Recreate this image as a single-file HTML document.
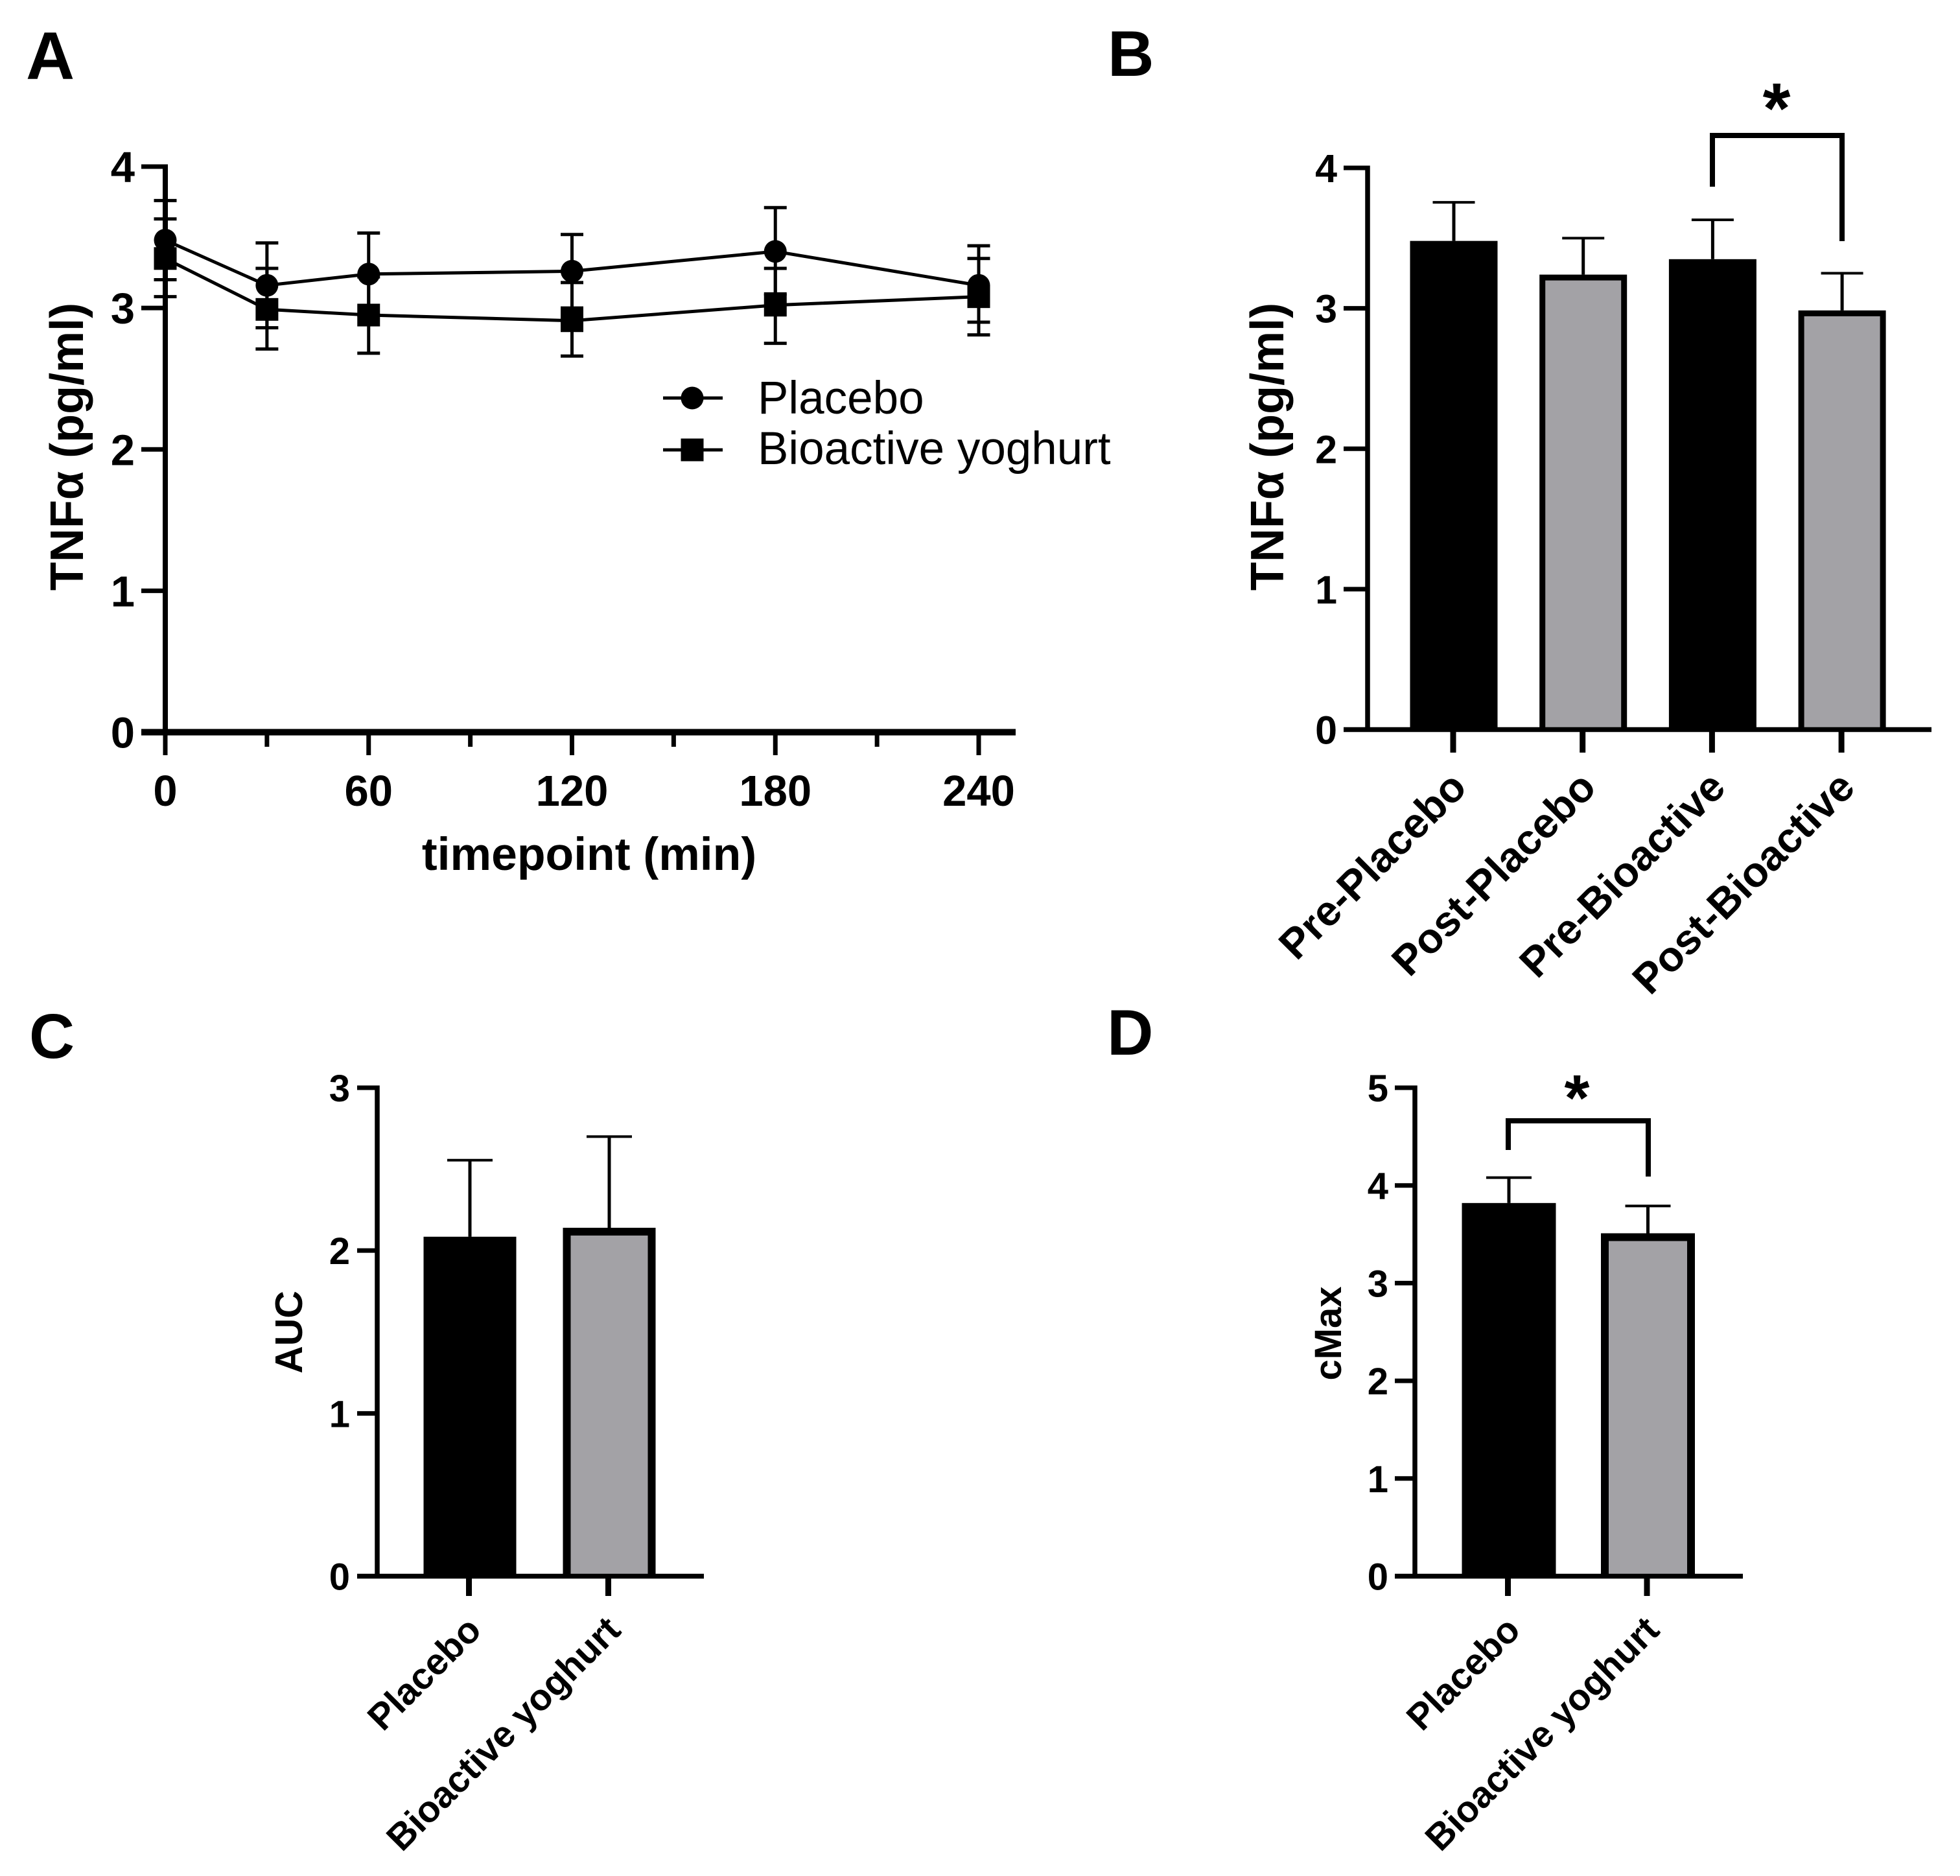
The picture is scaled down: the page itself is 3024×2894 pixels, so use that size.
<!DOCTYPE html>
<html lang="en">
<head>
<meta charset="utf-8">
<title>TNFα chart panels</title>
<style>
html,body{margin:0;padding:0;background:#fff;width:3024px;height:2894px;overflow:hidden}
svg{display:block}
text{font-family:"Liberation Sans",Arial,sans-serif;fill:#000}
.b{font-weight:bold}
</style>
</head>
<body>
<svg id="figure" xmlns="http://www.w3.org/2000/svg" width="3024" height="2894" viewBox="0 0 3024 2894">
  <rect width="3024" height="2894" fill="#fff"/>

  <g id="panel-a">
    <text class="b" x="40" y="122" font-size="104">A</text>
    <text class="b" transform="translate(128 689) rotate(-90)" text-anchor="middle" font-size="72">TNFα (pg/ml)</text>
    <text class="b" x="909" y="1342" text-anchor="middle" font-size="71.5">timepoint (min)</text>
    <text x="1169" y="638" font-size="71">Placebo</text>
    <text x="1169" y="716" font-size="71">Bioactive yoghurt</text>
  </g>

  <g id="panel-b">
    <text class="b" x="1709" y="117" font-size="99">B</text>
    <text class="b" transform="translate(1980 689) rotate(-90)" text-anchor="middle" font-size="72">TNFα (pg/ml)</text>
    <text class="b" x="2741" y="205" text-anchor="middle" font-size="110">*</text>
  </g>

  <g id="panel-c">
    <text class="b" x="45" y="1632" font-size="97">C</text>
    <text class="b" transform="translate(466 2055) rotate(-90)" text-anchor="middle" font-size="59">AUC</text>
  </g>

  <g id="panel-d">
    <text class="b" x="1708" y="1627" font-size="99">D</text>
    <text class="b" transform="translate(2069 2057) rotate(-90)" text-anchor="middle" font-size="58">cMax</text>
    <text class="b" x="2433" y="1728" text-anchor="middle" font-size="100">*</text>
  </g>
</svg>

<script>
// ---- Panel A data ----
const timepoints = [0, 30, 60, 120, 180, 240];
const placeboMean = [3.48, 3.16, 3.24, 3.26, 3.40, 3.16];
const placeboUpper = [3.76, 3.46, 3.53, 3.52, 3.71, 3.44];
const placeboLower = [3.20, 2.86, 2.95, 3.00, 3.10, 2.90];
const bioactiveMean = [3.35, 2.99, 2.95, 2.91, 3.02, 3.08];
const bioactiveUpper = [3.63, 3.28, 3.22, 3.18, 3.28, 3.35];
const bioactiveLower = [3.08, 2.71, 2.68, 2.66, 2.75, 2.81];
const panelAYTicks = [0, 1, 2, 3, 4];
const panelAXTicks = [0, 60, 120, 180, 240];
const panelAMinorTicks = [30, 90, 150, 210];

// ---- Panel B data ----
const panelBCategories = ['Pre-Placebo', 'Post-Placebo', 'Pre-Bioactive', 'Post-Bioactive'];
const panelBValues = [3.48, 3.24, 3.35, 2.985];
const panelBErrorTops = [3.755, 3.50, 3.63, 3.25];
const panelBYTicks = [0, 1, 2, 3, 4];

// ---- Panel C data ----
const panelCCategories = ['Placebo', 'Bioactive yoghurt'];
const panelCValues = [2.085, 2.14];
const panelCErrorTops = [2.555, 2.70];
const panelCYTicks = [0, 1, 2, 3];

// ---- Panel D data ----
const panelDCategories = ['Placebo', 'Bioactive yoghurt'];
const panelDValues = [3.82, 3.51];
const panelDErrorTops = [4.08, 3.79];
const panelDYTicks = [0, 1, 2, 3, 4, 5];

const SVG_NS = 'http://www.w3.org/2000/svg';
const GREY = '#a3a2a6';

function make(parent, tag, name, props, content) {
  const el = document.createElementNS(SVG_NS, tag);
  
  
  for (const key in props) el.setAttribute(key, props[key]);
  if (content !== undefined) el.textContent = content;
  parent.appendChild(el);
  return el;
}
function line(parent, name, x1, y1, x2, y2, w) {
  return make(parent, 'line', name, {x1, y1, x2, y2, stroke: '#000', 'stroke-width': w});
}
function linear(d0, r0, d1, r1) {
  return v => r0 + (v - d0) * (r1 - r0) / (d1 - d0);
}

// ---- Panel A ----
(function () {
  const g = document.getElementById('panel-a');
  const x = linear(0, 255, 240, 1510);
  const y = linear(0, 1129.5, 4, 257);
  panelAYTicks.forEach(t => {
    line(g, 'y-tick-' + t, 218, y(t), 255, y(t), 7);
    make(g, 'text', 'y-tick-label-' + t, {class: 'b', x: 208, y: y(t) + 24, 'text-anchor': 'end', 'font-size': 67}, String(t));
  });
  panelAXTicks.forEach(t => {
    line(g, 'x-tick-' + t, x(t), 1129, x(t), 1165, 7);
    make(g, 'text', 'x-tick-label-' + t, {class: 'b', x: x(t), y: 1243, 'text-anchor': 'middle', 'font-size': 67}, String(t));
  });
  panelAMinorTicks.forEach(t => {
    line(g, 'x-minor-tick-' + t, x(t), 1129, x(t), 1152, 7);
  });
  line(g, 'y-axis', 255, 253.5, 255, 1134, 8);
  line(g, 'x-axis', 218, 1129.5, 1567, 1129.5, 10);

  function series(name, mean, upper, lower, square) {
    const group = make(g, 'g', name + '-series', {});
    mean.forEach((m, i) => {
      const px = x(timepoints[i]);
      line(group, name + '-error-stem-' + timepoints[i], px, y(upper[i]), px, y(lower[i]), 5);
      line(group, name + '-error-cap-upper-' + timepoints[i], px - 17.5, y(upper[i]), px + 17.5, y(upper[i]), 5);
      line(group, name + '-error-cap-lower-' + timepoints[i], px - 17.5, y(lower[i]), px + 17.5, y(lower[i]), 5);
    });
    const pts = mean.map((m, i) => x(timepoints[i]) + ',' + y(m)).join(' ');
    make(group, 'polyline', name + '-line', {points: pts, fill: 'none', stroke: '#000', 'stroke-width': 5});
    mean.forEach((m, i) => {
      const px = x(timepoints[i]);
      if (square) {
        make(group, 'rect', name + '-point-' + timepoints[i], {x: px - 17.5, y: y(m) - 17.5, width: 35, height: 35, fill: '#000'});
      } else {
        make(group, 'circle', name + '-point-' + timepoints[i], {cx: px, cy: y(m), r: 17.5, fill: '#000'});
      }
    });
  }
  series('placebo', placeboMean, placeboUpper, placeboLower, false);
  series('bioactive', bioactiveMean, bioactiveUpper, bioactiveLower, true);

  line(g, 'legend-line-placebo', 1023, 614, 1115, 614, 5);
  make(g, 'circle', 'legend-marker-placebo', {cx: 1068, cy: 614, r: 17.5, fill: '#000'});
  line(g, 'legend-line-bioactive', 1023, 694, 1115, 694, 5);
  make(g, 'rect', 'legend-marker-bioactive', {x: 1050.5, y: 676.5, width: 35, height: 35, fill: '#000'});
})();

// ---- Bar panels ----
function barPanel(o) {
  const g = document.getElementById(o.id);
  const y = linear(0, o.y0, o.maxTick, o.yTop);
  const x = linear(0, o.firstX, 1, o.firstX + o.step);
  o.yTicks.forEach(t => {
    line(g, 'y-tick-' + t, o.tickLeft, y(t), o.axisX, y(t), 7);
    make(g, 'text', 'y-tick-label-' + t, {class: 'b', x: o.labelRight, y: y(t) + o.labelDy, 'text-anchor': 'end', 'font-size': o.tickFont}, String(t));
  });
  o.values.forEach((v, i) => {
    const cx = x(i);
    const cap = o.capW / 2;
    line(g, 'error-stem-' + i, cx, y(o.tops[i]), cx, y(v), 5);
    line(g, 'error-cap-' + i, cx - cap, y(o.tops[i]), cx + cap, y(o.tops[i]), 4);
    const b = o.border;
    if (i % 2 === 0) {
      make(g, 'rect', 'bar-' + i, {x: cx - o.barW / 2, y: y(v), width: o.barW, height: o.y0 - y(v), fill: '#000'});
    } else {
      const l = cx - o.barW / 2 + b / 2;
      const r = cx + o.barW / 2 - b / 2;
      const t = y(v) + b / 2;
      const outline = [l + ',' + o.y0, l + ',' + t, r + ',' + t, r + ',' + o.y0].join(' ');
      make(g, 'polyline', 'bar-' + i, {points: outline, fill: GREY, stroke: '#000', 'stroke-width': b});
    }
    line(g, 'x-tick-' + i, cx - o.tickShift, o.y0, cx - o.tickShift, o.tickBottom, 9);
    const ax = cx - o.tickShift + o.catDx;
    const ay = o.tickBottom + o.catDy;
    make(g, 'text', 'category-label-' + i, {class: 'b', x: ax, y: ay, 'text-anchor': 'end', 'font-size': o.catFont, transform: 'rotate(-45 ' + ax + ' ' + ay + ')'}, o.categories[i]);
  });
  line(g, 'y-axis', o.axisX, o.yTop - 3.5, o.axisX, o.y0 + 3, 7.5);
  line(g, 'x-axis', o.tickLeft, o.y0, o.axisEnd, o.y0, 7.5);
  if (o.bracket) {
    const bk = o.bracket;
    const pts = [bk.x1 + ',' + bk.b1, bk.x1 + ',' + bk.top, bk.x2 + ',' + bk.top, bk.x2 + ',' + bk.b2].join(' ');
    make(g, 'polyline', 'significance-bracket', {points: pts, fill: 'none', stroke: '#000', 'stroke-width': 8});
  }
}

barPanel({id: 'panel-b', y0: 1125.5, yTop: 259, maxTick: 4, firstX: 2243, step: 199.7, axisX: 2110, tickLeft: 2073, axisEnd: 2980,
  labelRight: 2063, labelDy: 22, tickFont: 61, barW: 135, capW: 65, border: 9, tickBottom: 1161, tickShift: 1, catDx: 24, catDy: 57, catFont: 65,
  yTicks: panelBYTicks, values: panelBValues, tops: panelBErrorTops, categories: panelBCategories,
  bracket: {x1: 2642, x2: 2842, top: 209, b1: 288, b2: 372}});

barPanel({id: 'panel-c', y0: 2431.5, yTop: 1678, maxTick: 3, firstX: 725, step: 215, axisX: 582, tickLeft: 551, axisEnd: 1086,
  labelRight: 540, labelDy: 21, tickFont: 58, barW: 143, capW: 70, border: 12, tickBottom: 2462, tickShift: 1.5, catDx: 22, catDy: 56, catFont: 57,
  yTicks: panelCYTicks, values: panelCValues, tops: panelCErrorTops, categories: panelCCategories});

barPanel({id: 'panel-d', y0: 2431.5, yTop: 1678, maxTick: 5, firstX: 2328, step: 214.5, axisX: 2183, tickLeft: 2152, axisEnd: 2689,
  labelRight: 2142, labelDy: 21, tickFont: 58, barW: 145, capW: 70, border: 12, tickBottom: 2462, tickShift: 1.5, catDx: 22, catDy: 56, catFont: 57,
  yTicks: panelDYTicks, values: panelDValues, tops: panelDErrorTops, categories: panelDCategories,
  bracket: {x1: 2327, x2: 2543, top: 1729, b1: 1774, b2: 1815}});
</script>
</body>
</html>
